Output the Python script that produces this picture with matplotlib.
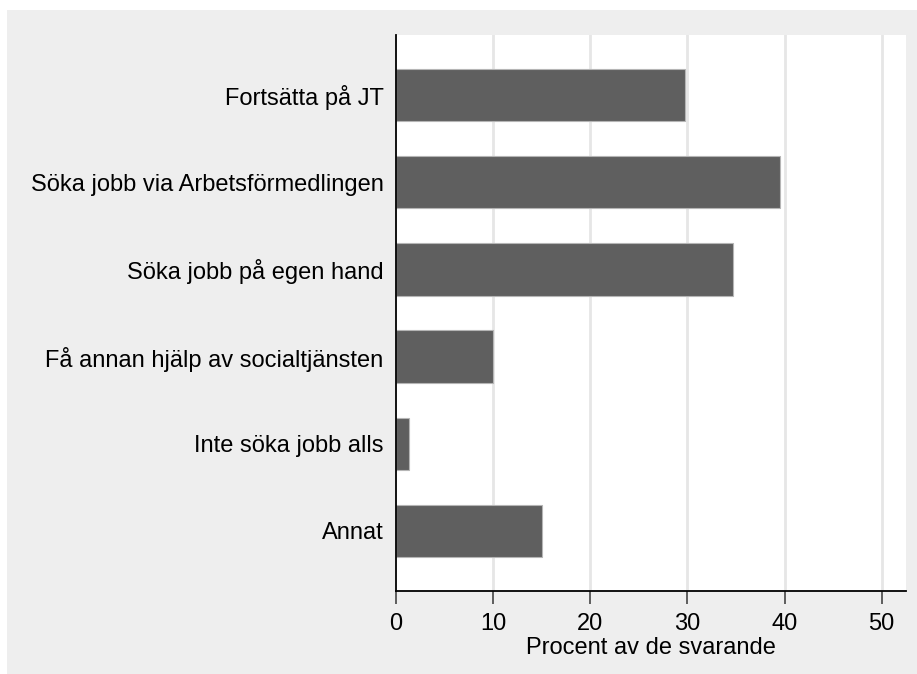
import matplotlib
matplotlib.use("Agg")
import matplotlib.pyplot as plt
from matplotlib.patches import Rectangle

categories = ["Fortsätta på JT", "Söka jobb via Arbetsförmedlingen", "Söka jobb på egen hand",
              "Få annan hjälp av socialtjänsten", "Inte söka jobb alls", "Annat"]
values = [29.7, 39.5, 34.7, 10.0, 1.3, 15.0]
xticks = [0, 10, 20, 30, 40, 50]
xlabel = "Procent av de svarande"

plt.rcParams['font.family'] = ['Liberation Sans', 'DejaVu Sans']

W, H = 917, 674
fig = plt.figure(figsize=(W/100, H/100), dpi=100, facecolor='white')
fig.patches.append(Rectangle((7/W, 0), 1 - 7/W, 1 - 10/H, transform=fig.transFigure,
                             facecolor='#eeeeee', edgecolor='none', zorder=-10))
ax = fig.add_axes([396/W, 1 - 591/H, (906-396)/W, (591-35)/H])
ax.set_zorder(5)
ax.set_facecolor('white')

pos = list(range(len(categories)))
ax.barh(pos, values, height=0.6, color='#5f5f5f', edgecolor='#b5b5b5', linewidth=0.8, zorder=3)
ax.set_ylim(len(categories) - 1 + 0.69, -0.69)
ax.set_xlim(0, 52.5)
ax.set_yticks(pos)
ax.set_yticklabels(categories, fontsize=17)
ax.tick_params(axis='y', length=0, pad=9)
ax.set_xticks(xticks)
ax.set_xticklabels([str(t) for t in xticks], fontsize=17)
ax.tick_params(axis='x', length=9, width=1.2, color='#444444', pad=7)
for t in xticks[1:]:
    ax.axvline(t, color='#e6e6e6', linewidth=2, zorder=1)
ax.set_xlabel(xlabel, fontsize=17, labelpad=1)
for s in ['top', 'right']:
    ax.spines[s].set_visible(False)
for s in ['left', 'bottom']:
    ax.spines[s].set_linewidth(1.3)
    ax.spines[s].set_color('black')
    ax.spines[s].set_zorder(4)

fig.savefig("out.png", dpi=100, facecolor=fig.get_facecolor())
